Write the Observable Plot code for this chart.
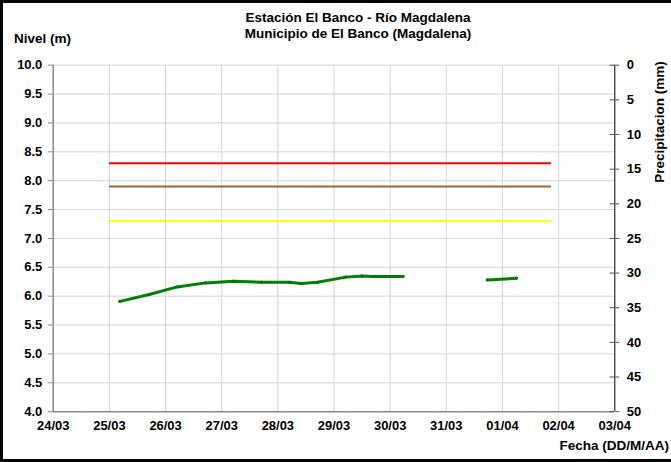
<!DOCTYPE html>
<html><head><meta charset="utf-8">
<script src="https://cdn.jsdelivr.net/npm/d3@7"></script>
<script src="https://cdn.jsdelivr.net/npm/@observablehq/plot@0.6"></script>
<style>
html,body{margin:0;padding:0;background:#fff;overflow:hidden}
#wrap{position:relative;width:671px;height:462px;box-sizing:border-box;border:3px solid #000;border-right:none;overflow:hidden;font-family:"Liberation Sans",Arial,sans-serif;font-weight:bold;color:#000}
#chart{position:absolute;left:-3px;top:-3px}
.t{position:absolute;font-size:13.5px;white-space:nowrap}
</style></head><body>
<div id="wrap">
<div id="chart"></div>
<div class="t" style="left:0;width:710px;top:7px;text-align:center;line-height:16px">Estación El Banco - Río Magdalena<br>Municipio de El Banco (Magdalena)</div>
<div class="t" style="left:11px;top:28px">Nivel (m)</div>
<div class="t" style="right:2px;top:435px">Fecha (DD/M/AA)</div>
<div class="t" style="left:656px;top:119px;transform:translate(-50%,-50%) rotate(-90deg)">Precipitacion (mm)</div>
</div>
<script>
// Level readings (m)
const levelDates = [
  "2017-03-25T04:30Z","2017-03-25T17:00Z","2017-03-26T05:00Z","2017-03-26T17:00Z",
  "2017-03-27T05:00Z","2017-03-27T17:00Z","2017-03-28T05:00Z","2017-03-28T10:00Z",
  "2017-03-28T17:00Z","2017-03-29T05:00Z","2017-03-29T12:00Z","2017-03-29T17:00Z",
  "2017-03-30T05:30Z","2017-03-31T00:00Z","2017-03-31T17:30Z","2017-04-01T06:00Z"
];
const levelValues = [5.91,6.03,6.16,6.23,6.26,6.24,6.24,6.22,6.24,6.33,6.35,6.34,6.34,null,6.28,6.31];

// Alert thresholds
const thresholdNames = ["Roja","Naranja","Amarilla"];
const thresholdValues = [8.3,7.9,7.3];
const thresholdColors = ["#ff0000","#a0662c","#ffff00"];
const thresholdStart = "2017-03-25T00:00Z";
const thresholdEnd = "2017-04-01T21:00Z";

// Axes
const xDomain = ["2017-03-24T00:00Z","2017-04-03T00:00Z"];
const levelTicks = d3.range(4, 10.01, 0.5);
const precipTicks = [0,5,10,15,20,25,30,35,40,45,50];

const parse = d3.isoParse;
const levels = levelDates.map((d,i)=>({date:parse(d), level:levelValues[i]}));
const thresholds = thresholdNames.map((n,i)=>({name:n, value:thresholdValues[i], color:thresholdColors[i], x1:parse(thresholdStart), x2:parse(thresholdEnd)}));
const precipToLevel = p => 10 - p*6/50;
const xEnd = parse(xDomain[1]);
const dayTicks = d3.utcDay.range(parse(xDomain[0]), d3.utcDay.offset(xEnd,1));

const plot = Plot.plot({
  width: 674, height: 465,
  marginTop: 65, marginBottom: 52, marginLeft: 53, marginRight: 57,
  style: {fontFamily: '"Liberation Sans", Arial, sans-serif', fontSize: "13px", fontWeight: "bold", color:"#000", background:"transparent"},
  x: {type:"utc", domain: xDomain.map(parse)},
  y: {domain:[4,10]},
  marks: [
    Plot.gridY(levelTicks, {stroke:"#d4d4d4", strokeOpacity:1}),
    Plot.gridX(dayTicks, {stroke:"#d4d4d4", strokeOpacity:1}),
    Plot.ruleX([parse(xDomain[0])], {stroke:"#8a8a8a", strokeWidth:1.5}),
    Plot.ruleY([4], {stroke:"#8a8a8a", strokeWidth:1.5}),
    Plot.ruleX([xEnd], {stroke:"#333", strokeWidth:1.2}),
    Plot.axisY(levelTicks, {anchor:"left", tickFormat: d3.format(".1f"), tickSize:5, tickPadding:6, stroke:"#8a8a8a", label:null}),
    Plot.axisY(precipTicks.map(precipToLevel), {anchor:"right", tickFormat: d => String(Math.round((10-d)*50/6)), tickSize:4, tickPadding:8, stroke:"#555", label:null}),
    Plot.ruleY(precipTicks.map(precipToLevel), {x1: d3.utcHour.offset(xEnd,-1.3), x2: xEnd, stroke:"#555"}),
    Plot.axisX(dayTicks, {anchor:"bottom", tickFormat: d3.utcFormat("%d/%m"), tickSize:0, tickPadding:9, label:null}),
    Plot.ruleY(thresholds, {y:"value", x1:"x1", x2:"x2", stroke:"color", strokeWidth:2}),
    Plot.line(levels, {x:"date", y:"level", stroke:"#008000", strokeWidth:3, curve:"linear"}),
    Plot.dot(levels.filter(d=>d.level!=null), {x:"date", y:"level", r:1.5, fill:"#007000"})
  ]
});
document.getElementById("chart").appendChild(plot);
</script>
</body></html>
